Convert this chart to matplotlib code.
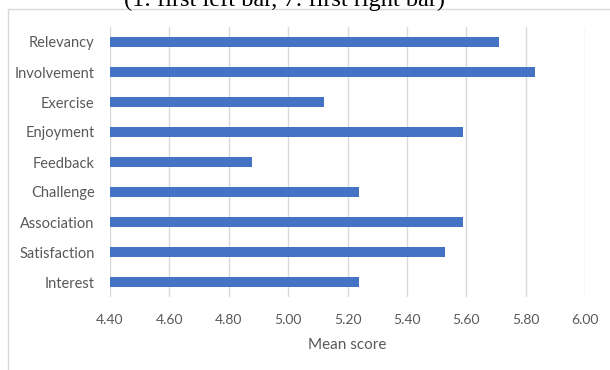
import matplotlib
matplotlib.use("Agg")
from matplotlib import pyplot as plt
from matplotlib.patches import Rectangle

categories = ['Relevancy', 'Involvement', 'Exercise', 'Enjoyment', 'Feedback',
              'Challenge', 'Association', 'Satisfaction', 'Interest']
mean_scores = [5.71, 5.83, 5.12, 5.59, 4.88, 5.24, 5.59, 5.53, 5.24]
x_ticks = [4.40, 4.60, 4.80, 5.00, 5.20, 5.40, 5.60, 5.80, 6.00]

plt.rcParams['font.family'] = ['Lato', 'DejaVu Sans']

fig = plt.figure(figsize=(6.1, 3.7), dpi=100)
ax = fig.add_axes([110 / 610, 1 - 297 / 370, 475 / 610, 270 / 370])

# cut-off caption above the chart frame
fig.text(284 / 610, 1 - 6 / 370, '(1: first left bar, 7: first right bar)',
         ha='center', va='baseline', fontsize=17.5, family='Liberation Serif', color='black')
# chart area frame (clipped by the image edges)
fig.patches.append(Rectangle((8 / 610, -0.1), 1.2, 1 - 9 / 370 + 0.1, transform=fig.transFigure,
                             fill=False, edgecolor='#d9d9d9', linewidth=1))

ypos = list(range(len(categories)))
ax.barh(ypos, [v - 4.4 for v in mean_scores], left=4.4, height=0.33, color='#4472C4', zorder=3)

ax.set_xlim(4.4, 6.0)
ax.set_ylim(len(categories) - 0.5, -0.5)
ax.set_xticks(x_ticks)
ax.set_xticklabels([f'{t:.2f}' for t in x_ticks])
ax.set_yticks(ypos)
ax.set_yticklabels(categories)
ax.tick_params(axis='both', length=0, labelcolor='#595959')
ax.tick_params(axis='y', pad=11, labelsize=10.5)
ax.tick_params(axis='x', pad=12, labelsize=10)
ax.grid(True, axis='x', color='#d9d9d9', linewidth=1, zorder=0)
for s in ax.spines.values():
    s.set_visible(False)
ax.set_xlabel('Mean score', fontsize=11, color='#595959', labelpad=9)

fig.savefig('out.png', dpi=100)
